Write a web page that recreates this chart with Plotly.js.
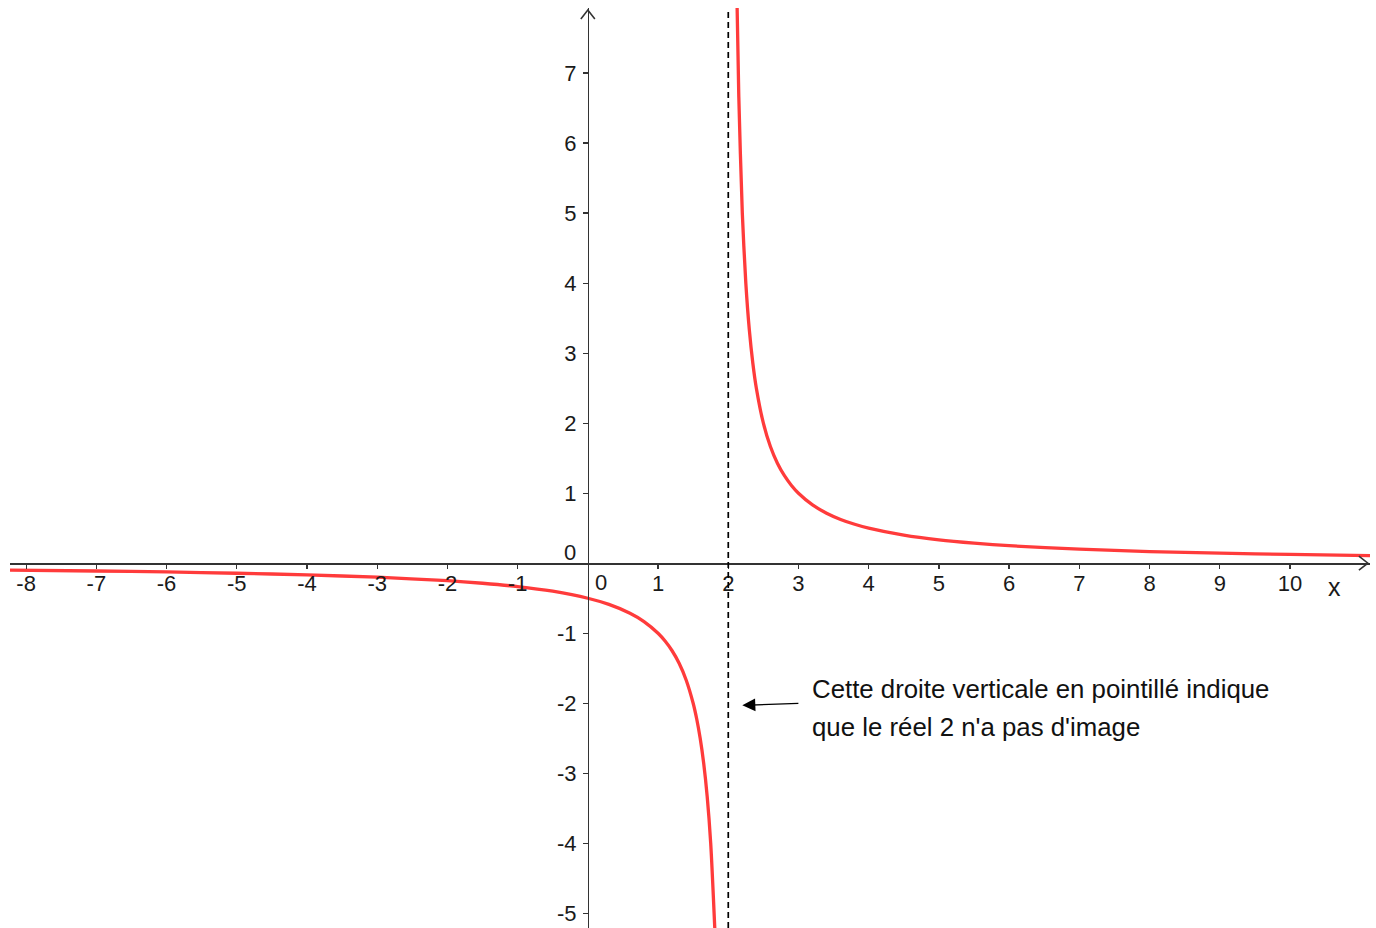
<!DOCTYPE html>
<html>
<head>
<meta charset="utf-8">
<script src="https://cdn.plot.ly/plotly-3.0.1.min.js"></script>
<style>
html,body{margin:0;padding:0;background:#fff;}
#chart{width:1376px;height:928px;}
</style>
</head>
<body>
<div id="chart"></div>
<script>
// Left branch of the curve (x < 2)
var leftX = [-8.23, -7, -6, -5, -4, -3, -2, -1.5, -1, -0.5, 0, 0.3, 0.6, 0.8, 1, 1.1, 1.2, 1.3, 1.4, 1.5, 1.55, 1.6, 1.65, 1.7, 1.75, 1.81];
var leftY = [-0.098, -0.111, -0.125, -0.143, -0.167, -0.2, -0.25, -0.286, -0.333, -0.4, -0.5, -0.588, -0.714, -0.833, -1, -1.111, -1.25, -1.429, -1.667, -2, -2.222, -2.5, -2.857, -3.333, -4, -5.26];
// Right branch of the curve (x > 2)
var rightX = [2.125, 2.15, 2.2, 2.25, 2.3, 2.35, 2.4, 2.5, 2.6, 2.7, 2.8, 2.9, 3, 3.2, 3.4, 3.6, 3.8, 4, 4.5, 5, 5.5, 6, 7, 8, 9, 10, 11.14];
var rightY = [8, 6.667, 5, 4, 3.333, 2.857, 2.5, 2, 1.667, 1.429, 1.25, 1.111, 1, 0.833, 0.714, 0.625, 0.556, 0.5, 0.4, 0.333, 0.286, 0.25, 0.2, 0.167, 0.143, 0.125, 0.109];
// Asymptote
var asymptoteX = 2;
// Tick labels
var xTicks = [-8, -7, -6, -5, -4, -3, -2, -1, 1, 2, 3, 4, 5, 6, 7, 8, 9, 10];
var yTicks = [-5, -4, -3, -2, -1, 1, 2, 3, 4, 5, 6, 7];
var noteLines = ["Cette droite verticale en pointillé indique", "que le réel 2 n'a pas d'image"];

var xRange = [-8.23, 11.14];
var yRange = [-5.21, 7.93];
var xPos = (0 - xRange[0]) / (xRange[1] - xRange[0]);
var yPos = (0 - yRange[0]) / (yRange[1] - yRange[0]);

var red = '#ff3b3b';
var axisColor = '#333333';
var fontFam = '"Liberation Sans", Arial, sans-serif';

var traces = [
  {x: leftX, y: leftY, mode: 'lines', line: {color: red, width: 3.3, shape: 'spline', smoothing: 0.7}, hoverinfo: 'skip', showlegend: false},
  {x: rightX, y: rightY, mode: 'lines', line: {color: red, width: 3.3, shape: 'spline', smoothing: 0.7}, hoverinfo: 'skip', showlegend: false}
];

var layout = {
  width: 1376, height: 928,
  margin: {l: 10, r: 6, t: 8, b: 0},
  paper_bgcolor: '#fff', plot_bgcolor: '#fff',
  showlegend: false,
  font: {family: fontFam, color: '#1a1a1a', size: 22},
  xaxis: {
    range: xRange, anchor: 'free', position: yPos,
    showgrid: false, zeroline: false, showline: true, linecolor: axisColor, linewidth: 1.6,
    ticks: 'outside', ticklen: 4, tickwidth: 1.3, tickcolor: axisColor,
    ticklabelstandoff: -4,
    tickvals: xTicks, ticktext: xTicks.map(String),
    tickfont: {size: 22, family: fontFam, color: '#1a1a1a'}, fixedrange: true
  },
  yaxis: {
    range: yRange, anchor: 'free', position: xPos,
    showgrid: false, zeroline: false, showline: true, linecolor: axisColor, linewidth: 1.6,
    ticks: 'outside', ticklen: 5, tickwidth: 1.3, tickcolor: axisColor,
    ticklabelstandoff: 2,
    tickvals: yTicks, ticktext: yTicks.map(String),
    tickfont: {size: 22, family: fontFam, color: '#1a1a1a'}, fixedrange: true
  },
  shapes: [
    {type: 'line', xref: 'x', yref: 'paper', x0: asymptoteX, x1: asymptoteX, y0: 0, y1: 1,
     line: {color: '#000', width: 1.7, dash: '6px,4px'}},
    // x-axis arrowhead
    {type: 'path', xref: 'x', yref: 'y', xsizemode: 'pixel', ysizemode: 'pixel',
     xanchor: xRange[1] - 0.03, yanchor: 0, path: 'M -9 7 L 0 0 L -9 -7',
     line: {color: axisColor, width: 1.6}},
    // y-axis arrowhead
    {type: 'path', xref: 'x', yref: 'y', xsizemode: 'pixel', ysizemode: 'pixel',
     xanchor: 0, yanchor: yRange[1] - 0.03, path: 'M -7 -9 L 0 0 L 7 -9',
     line: {color: axisColor, width: 1.6}}
  ],
  annotations: [
    {x: 0.185, y: -0.27, xref: 'x', yref: 'y', text: '0', showarrow: false, font: {size: 22}},
    {x: -0.25, y: 0.16, xref: 'x', yref: 'y', text: '0', showarrow: false, font: {size: 22}},
    {x: 10.64, y: -0.34, xref: 'x', yref: 'y', text: 'x', showarrow: false, font: {size: 25}},
    {x: 2.2, y: -2.03, xref: 'x', yref: 'y', ax: 3.02, ay: -2.0, axref: 'x', ayref: 'y',
     text: '', showarrow: true, arrowhead: 2, arrowsize: 2, arrowwidth: 1.3, arrowcolor: '#000', standoff: 0},
    {x: 3.17, y: -1.8, xref: 'x', yref: 'y', xanchor: 'left', text: noteLines[0], showarrow: false, font: {size: 25.8, color: '#111'}},
    {x: 3.17, y: -2.343, xref: 'x', yref: 'y', xanchor: 'left', text: noteLines[1], showarrow: false, font: {size: 25.8, color: '#111'}}
  ]
};

Plotly.newPlot('chart', traces, layout, {displayModeBar: false, staticPlot: true});
</script>
</body>
</html>
